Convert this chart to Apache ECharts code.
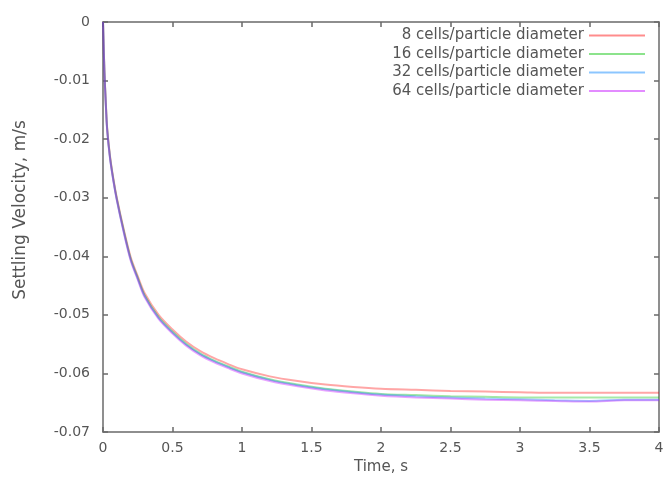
<!DOCTYPE html>
<html>
<head>
<meta charset="utf-8">
<script src="https://cdn.jsdelivr.net/npm/echarts@6/dist/echarts.min.js"></script>
<style>html,body{margin:0;padding:0;background:#fff}#c{width:667px;height:487px}</style>
</head>
<body>
<div id="c"></div>
<script>
const time = [0, 0.01, 0.02, 0.03, 0.05, 0.075, 0.1, 0.15, 0.2, 0.25, 0.3, 0.4, 0.5, 0.6, 0.7, 0.8, 0.9, 1.0, 1.2, 1.4, 1.6, 1.8, 2.0, 2.25, 2.5, 2.75, 3.0, 3.25, 3.5, 3.75, 4.0];
const cells8  = [0, -0.0082, -0.0136, -0.0181, -0.0228, -0.0268, -0.0301, -0.0355, -0.0402, -0.0434, -0.0463, -0.0500, -0.0525, -0.0546, -0.0562, -0.0574, -0.0584, -0.0593, -0.0605, -0.0613, -0.0619, -0.0623, -0.0626, -0.0628, -0.0630, -0.0631, -0.0632, -0.0633, -0.0633, -0.0633, -0.0633];
const cells16 = [0, -0.0083, -0.0138, -0.0183, -0.0230, -0.0270, -0.0303, -0.0357, -0.0405, -0.0437, -0.0467, -0.0504, -0.0529, -0.0550, -0.0566, -0.0578, -0.0588, -0.0597, -0.0610, -0.0619, -0.0626, -0.0631, -0.0635, -0.0637, -0.0639, -0.0640, -0.0641, -0.0641, -0.0641, -0.0641, -0.0641];
const cells32 = [0, -0.0084, -0.0139, -0.0184, -0.0231, -0.0271, -0.0304, -0.0359, -0.0406, -0.0438, -0.0468, -0.0505, -0.0530, -0.0551, -0.0567, -0.0579, -0.0589, -0.0598, -0.0611, -0.0620, -0.0627, -0.0632, -0.0636, -0.0639, -0.0641, -0.0643, -0.0644, -0.0646, -0.0647, -0.0645, -0.0645];
const cells64 = [0, -0.0085, -0.0140, -0.0185, -0.0232, -0.0272, -0.0305, -0.0360, -0.0408, -0.0440, -0.0470, -0.0507, -0.0532, -0.0553, -0.0569, -0.0581, -0.0591, -0.0600, -0.0613, -0.0622, -0.0629, -0.0634, -0.0638, -0.0641, -0.0643, -0.0645, -0.0646, -0.0647, -0.0648, -0.0646, -0.0646];
const seriesNames = ['8 cells/particle diameter', '16 cells/particle diameter', '32 cells/particle diameter', '64 cells/particle diameter'];
const seriesData = [cells8, cells16, cells32, cells64];
const colors = ['#ff0000', '#00c000', '#0080ff', '#c000ff'];
const xTicks = [0, 0.5, 1, 1.5, 2, 2.5, 3, 3.5, 4];
const yTicks = [0, -0.01, -0.02, -0.03, -0.04, -0.05, -0.06, -0.07];

const chart = echarts.init(document.getElementById('c'), null, {renderer: 'canvas'});
const font = "'DejaVu Sans', sans-serif";
const axisLine = {show: true, onZero: false, lineStyle: {color: '#6a6a6a', width: 1.5}};
const tick = {show: true, inside: true, length: 5, lineStyle: {color: '#6a6a6a', width: 1.5}};

const legends = seriesNames.map((n, i) => ({
  data: [{name: n, icon: 'rect'}],
  orient: 'vertical',
  right: 22,
  top: 28 + i * 18.5,
  align: 'right',
  itemWidth: 56,
  itemHeight: 2,
  padding: 0,
  selectedMode: false,
  itemStyle: {opacity: 0.45},
  textStyle: {fontFamily: font, fontSize: 15, color: '#555'}
}));

chart.setOption({
  animation: false,
  backgroundColor: '#fff',
  grid: {left: 103, right: 8, top: 22, bottom: 55, containLabel: false},
  legend: legends,
  xAxis: [{
    type: 'value', position: 'bottom', min: 0, max: 4, interval: 0.5,
    name: 'Time, s', nameLocation: 'middle', nameGap: 28,
    nameTextStyle: {fontFamily: font, fontSize: 15, color: '#555'},
    axisLine: axisLine, axisTick: tick, splitLine: {show: false},
    axisLabel: {fontFamily: font, fontSize: 14, color: '#555', margin: 9,
      formatter: v => String(xTicks.find(t => Math.abs(t - v) < 1e-9) ?? v)}
  }, {
    type: 'value', position: 'top', min: 0, max: 4, interval: 0.5,
    axisLine: axisLine, axisTick: tick, splitLine: {show: false}, axisLabel: {show: false}
  }],
  yAxis: [{
    type: 'value', position: 'left', min: -0.07, max: 0, interval: 0.01,
    name: 'Settling Velocity, m/s', nameLocation: 'middle', nameGap: 74, nameRotate: 90,
    nameTextStyle: {fontFamily: font, fontSize: 17, color: '#555', padding: [0, 0, 0, 34]},
    axisLine: axisLine, axisTick: tick, splitLine: {show: false},
    axisLabel: {fontFamily: font, fontSize: 14, color: '#555', margin: 13,
      formatter: v => {
        const t = yTicks.find(k => Math.abs(k - v) < 1e-9);
        return t === 0 ? '0' : (t !== undefined ? t.toFixed(2) : v);
      }}
  }, {
    type: 'value', position: 'right', min: -0.07, max: 0, interval: 0.01,
    axisLine: axisLine, axisTick: tick, splitLine: {show: false}, axisLabel: {show: false}
  }],
  series: seriesNames.map((n, i) => ({
    name: n,
    type: 'line',
    xAxisIndex: 0, yAxisIndex: 0,
    symbol: 'none',
    smooth: 0.3,
    color: colors[i],
    lineStyle: {color: colors[i], width: 2, opacity: 0.35},
    data: time.map((t, j) => [t, seriesData[i][j]])
  }))
});
</script>
</body>
</html>
